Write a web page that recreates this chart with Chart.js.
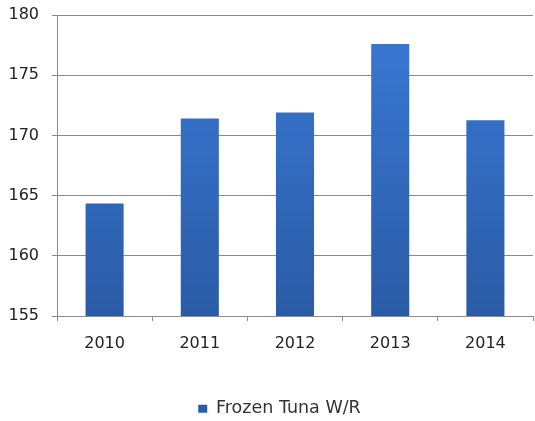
<!DOCTYPE html>
<html>
<head>
<meta charset="utf-8">
<script src="https://cdn.jsdelivr.net/npm/chart.js@4/dist/chart.umd.min.js"></script>
<style>
  html, body { margin: 0; padding: 0; background: #fff; }
  #wrap { width: 535px; height: 421px; }
</style>
</head>
<body>
<div id="wrap"><canvas id="tunaChart" width="535" height="421"></canvas></div>
<script>
// данные графика
const years = ["2010", "2011", "2012", "2013", "2014"];
const tunaValues = [164.35, 171.4, 171.9, 177.6, 171.25];
const seriesName = "Frozen Tuna W/R";
const yMin = 155;
const yMax = 180;
const yStep = 5;

const axisColor = "#8a8a8a";
const fontFamily = "'DejaVu Sans', sans-serif";

// вертикальный градиент для столбцов
function barGradient(context) {
  const chart = context.chart;
  const area = chart.chartArea;
  if (!area) return "#2f6bc2";
  const g = chart.ctx.createLinearGradient(0, area.top, 0, area.bottom);
  g.addColorStop(0, "#3a7ad6");
  g.addColorStop(1, "#2a5ba6");
  return g;
}

// сдвигаем легенду немного вправо
const legendShift = {
  id: "legendShift",
  afterLayout(chart) {
    const lg = chart.legend;
    if (!lg) return;
    lg.left += 13;
    lg.right += 13;
  },
};

const ctx = document.getElementById("tunaChart").getContext("2d");

new Chart(ctx, {
  type: "bar",
  data: {
    labels: years,
    datasets: [
      {
        label: seriesName,
        data: tunaValues,
        backgroundColor: barGradient,
        borderWidth: 0,
        barPercentage: 0.4,
        categoryPercentage: 1.0,
      },
    ],
  },
  plugins: [legendShift],
  options: {
    responsive: false,
    animation: false,
    layout: {
      padding: { top: 15, right: 2, bottom: -6.5, left: 0 },
    },
    scales: {
      x: {
        grid: {
          display: true,
          offset: true,
          drawOnChartArea: false,
          drawTicks: true,
          tickLength: 5,
          color: axisColor,
        },
        border: { display: true, color: axisColor, width: 1 },
        ticks: {
          color: "#222",
          font: { size: 16, family: fontFamily },
          padding: 13,
          maxRotation: 0,
        },
        afterFit: (scale) => {
          scale.height = 80;
        },
      },
      y: {
        min: yMin,
        max: yMax,
        grid: {
          color: axisColor,
          tickLength: 5,
          drawTicks: true,
        },
        border: { display: true, color: axisColor, width: 1 },
        ticks: {
          stepSize: yStep,
          color: "#222",
          font: { size: 16, family: fontFamily },
          padding: 13,
        },
        afterFit: (scale) => {
          scale.width = 57;
          // верх и низ области графика задаются через layout.padding
          scale.paddingTop = 0;
          scale.paddingBottom = 0;
        },
      },
    },
    plugins: {
      legend: {
        position: "bottom",
        labels: {
          color: "#333",
          font: { size: 17.5, family: fontFamily },
          boxWidth: 9,
          boxHeight: 8,
          padding: 4,
        },
      },
      tooltip: { enabled: false },
    },
  },
});
</script>
</body>
</html>
